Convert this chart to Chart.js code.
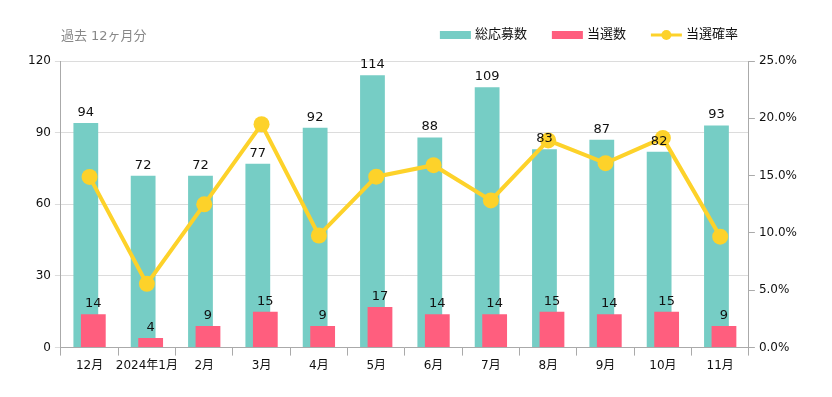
<!DOCTYPE html>
<html lang="ja">
<head>
<meta charset="utf-8">
<script src="https://cdn.jsdelivr.net/npm/chart.js@4"></script>
<style>
  html, body { margin: 0; padding: 0; background: #fff; }
  #wrap { width: 832px; height: 397px; position: relative; }
</style>
</head>
<body>
<div id="wrap"><canvas id="chart"></canvas></div>
<script>
// データ
const months = ['12月', '2024年1月', '2月', '3月', '4月', '5月', '6月', '7月', '8月', '9月', '10月', '11月'];
const applications = [94, 72, 72, 77, 92, 114, 88, 109, 83, 87, 82, 93];
const winners = [14, 4, 9, 15, 9, 17, 14, 14, 15, 14, 15, 9];
const winRate = [14.89, 5.56, 12.5, 19.48, 9.78, 14.91, 15.91, 12.84, 18.07, 16.09, 18.29, 9.68];
const leftTicks = [0, 30, 60, 90, 120];
const rightTicks = [0, 5, 10, 15, 20, 25];

const TEAL = '#76cdc5';
const PINK = '#ff5e7e';
const YELLOW = '#fdd22a';
const FONT = "'DejaVu Sans', 'Noto Sans CJK JP', sans-serif";

// 値ラベル・タイトル・凡例
const labelPlugin = {
    id: 'valueLabels',
    // 当選数の棒を総応募数の上に重ねる
    beforeDatasetDraw(chart, args) {
        if (args.index === 1 && !chart.$pinkNow) return false;
    },
    afterDatasetDraw(chart, args) {
        if (args.index === 0) {
            chart.$pinkNow = true;
            chart._drawDataset(chart.getDatasetMeta(1));
            chart.$pinkNow = false;
        }
    },
    afterDatasetsDraw(chart) {
        const ctx = chart.ctx;
        ctx.save();
        ctx.font = '13px ' + FONT;
        ctx.fillStyle = '#111';
        ctx.textAlign = 'center';
        ctx.textBaseline = 'bottom';
        [0, 1].forEach(di => {
            const meta = chart.getDatasetMeta(di);
            meta.data.forEach((bar, i) => {
                ctx.fillText(String(chart.data.datasets[di].data[i]), bar.x, bar.y - 4);
            });
        });
        ctx.restore();
    },
    afterDraw(chart) {
        const ctx = chart.ctx;
        const area = chart.chartArea;
        ctx.save();
        ctx.font = '13px ' + FONT;
        ctx.fillStyle = '#888';
        ctx.textAlign = 'left';
        ctx.textBaseline = 'middle';
        ctx.fillText('過去 12ヶ月分', area.left, 37);

        // 凡例
        const y = 35;
        const iconW = 31, gap = 4, spacing = 25;
        const items = chart.data.datasets.map(ds => ({ text: ds.label, type: ds.type, color: ds.type === 'line' ? ds.borderColor : ds.backgroundColor }));
        ctx.fillStyle = '#111';
        let total = 0;
        items.forEach((it, i) => {
            it.w = iconW + gap + ctx.measureText(it.text).width;
            total += it.w + (i > 0 ? spacing : 0);
        });
        let x = area.right - 11 - total;
        items.forEach(it => {
            ctx.fillStyle = it.color;
            ctx.strokeStyle = it.color;
            if (it.type === 'bar') {
                ctx.fillRect(x, y - 4, iconW, 8);
            } else {
                ctx.lineWidth = 3;
                ctx.beginPath(); ctx.moveTo(x, y); ctx.lineTo(x + iconW, y); ctx.stroke();
                ctx.beginPath(); ctx.arc(x + iconW / 2, y, 5, 0, Math.PI * 2); ctx.fill();
            }
            ctx.fillStyle = '#111';
            ctx.fillText(it.text, x + iconW + gap, y);
            x += it.w + spacing;
        });
        ctx.restore();
    }
};

new Chart(document.getElementById('chart'), {
    data: {
        labels: months,
        datasets: [{
            type: 'bar',
            label: '総応募数',
            data: applications,
            backgroundColor: TEAL,
            yAxisID: 'y',
            order: 0,
            categoryPercentage: 0.262,
            barPercentage: 3.3
        }, {
            type: 'bar',
            label: '当選数',
            data: winners,
            backgroundColor: PINK,
            yAxisID: 'y',
            order: 0,
            categoryPercentage: 0.262,
            barPercentage: 3.3
        }, {
            type: 'line',
            label: '当選確率',
            data: winRate,
            borderColor: YELLOW,
            backgroundColor: YELLOW,
            borderWidth: 4,
            pointRadius: 8,
            pointHoverRadius: 8,
            pointBackgroundColor: YELLOW,
            pointBorderWidth: 0,
            tension: 0,
            yAxisID: 'y1',
            order: -1
        }]
    },
    options: {
        responsive: true,
        maintainAspectRatio: false,
        animation: false,
        layout: { padding: { left: 24, right: 31, top: 61, bottom: 21 } },
        plugins: {
            tooltip: { enabled: false },
            legend: { display: false }
        },
        scales: {
            x: {
                offset: true,
                grid: { display: true, drawOnChartArea: false, offset: true, tickLength: 8, color: '#aaa' },
                border: { color: '#aaa' },
                ticks: { color: '#111', font: { family: FONT, size: 12 }, maxRotation: 0, autoSkip: false }
            },
            y: {
                position: 'left',
                min: 0,
                max: 120,
                afterBuildTicks: axis => { axis.ticks = leftTicks.map(v => ({ value: v })); },
                grid: { color: '#dcdcdc', tickLength: 6 },
                border: { color: '#aaa' },
                ticks: { color: '#111', font: { family: FONT, size: 12 }, padding: 4 }
            },
            y1: {
                position: 'right',
                min: 0,
                max: 25,
                afterBuildTicks: axis => { axis.ticks = rightTicks.map(v => ({ value: v })); },
                grid: { drawOnChartArea: false, color: '#aaa', tickLength: 6 },
                border: { color: '#aaa' },
                ticks: {
                    color: '#111',
                    font: { family: FONT, size: 12 },
                    padding: 4,
                    callback: v => v.toFixed(1) + '%'
                }
            }
        }
    },
    plugins: [labelPlugin]
});
</script>
</body>
</html>
